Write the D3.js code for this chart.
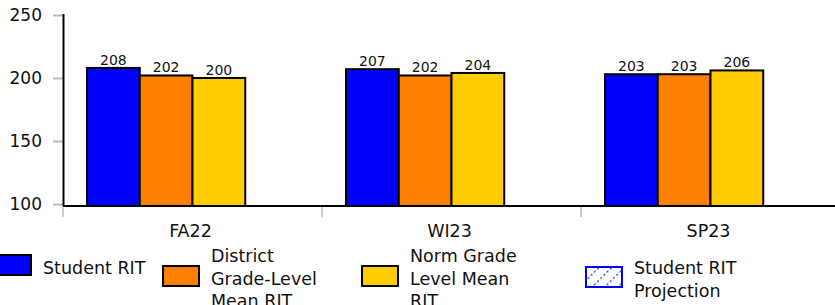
<!DOCTYPE html>
<html>
<head>
<meta charset="utf-8">
<script src="https://cdn.jsdelivr.net/npm/d3@7"></script>
<style>
  body { margin: 0; background: #fff; }
  svg { font-family: "DejaVu Sans", sans-serif; display: block; }
</style>
</head>
<body>
<div id="chart"></div>
<script>
// Data
var terms = ["FA22", "WI23", "SP23"];
var series = ["Student RIT", "District Grade-Level Mean RIT", "Norm Grade Level Mean RIT", "Student RIT Projection"];
var studentRit = [208, 207, 203];
var districtMean = [202, 202, 203];
var normMean = [200, 204, 206];
var yTicks = [100, 150, 200, 250];

var colors = ["#0000ff", "#ff8000", "#ffcc00"];

var width = 835, height = 305;
var svg = d3.select("#chart").append("svg")
    .attr("width", width)
    .attr("height", height);

// hatch pattern for projection
var pat = svg.append("defs").append("pattern")
    .attr("id", "proj")
    .attr("width", 9).attr("height", 9)
    .attr("patternUnits", "userSpaceOnUse")
    .attr("patternTransform", "rotate(45)");
pat.append("line")
    .attr("x1", 0).attr("y1", 0).attr("x2", 0).attr("y2", 9)
    .attr("stroke", "#2020ff")
    .attr("stroke-width", 2.5)
    .attr("stroke-dasharray", "2,2.5");

var baseY = 206;

// scales
var y = d3.scaleLinear().domain([100, 250]).range([204, 15]);
var x0 = d3.scaleBand().domain(terms).range([63, 840]);
var x1 = d3.scaleBand().domain(series).range([24, x0.bandwidth() - 24]);

// y axis
var yAxis = svg.append("g")
    .attr("transform", "translate(63,0)")
    .call(d3.axisLeft(y).tickValues(yTicks).tickSize(10).tickPadding(11));
yAxis.select(".domain").remove();
yAxis.selectAll(".tick line").attr("stroke", "#bbb").attr("stroke-width", 2);
yAxis.selectAll(".tick text")
    .attr("font-size", "17px")
    .attr("font-family", "DejaVu Sans, sans-serif")
    .attr("fill", "#111");
svg.append("line")
    .attr("x1", 63.5).attr("x2", 63.5)
    .attr("y1", 14).attr("y2", baseY)
    .attr("stroke", "#000").attr("stroke-width", 2);

// x axis ticks at band edges
var edges = terms.map(function(t){ return x0(t); }).concat([x0(terms[2]) + x0.bandwidth()]);
svg.selectAll(".xtick").data(edges).enter().append("line")
    .attr("class", "xtick")
    .attr("x1", function(d){ return d; }).attr("x2", function(d){ return d; })
    .attr("y1", baseY + 1).attr("y2", baseY + 11)
    .attr("stroke", "#ccc").attr("stroke-width", 2);

svg.selectAll(".xlabel").data(terms).enter().append("text")
    .attr("class", "xlabel")
    .attr("x", function(d){ return x0(d) + x0.bandwidth() / 2 - 2; })
    .attr("y", 237)
    .attr("text-anchor", "middle")
    .attr("font-size", "17.5px")
    .attr("fill", "#111")
    .text(function(d){ return d; });

// bars
var rows = terms.map(function(t, i){
    return { term: t, values: [studentRit[i], districtMean[i], normMean[i]] };
});

var groups = svg.selectAll(".grp").data(rows).enter().append("g")
    .attr("class", "grp")
    .attr("transform", function(d){ return "translate(" + x0(d.term) + ",0)"; });

groups.selectAll("rect").data(function(d){ return d.values; }).enter().append("rect")
    .attr("x", function(d, i){ return x1(series[i]); })
    .attr("y", function(d){ return y(d); })
    .attr("width", x1.bandwidth())
    .attr("height", function(d){ return baseY - y(d); })
    .attr("fill", function(d, i){ return colors[i]; })
    .attr("stroke", "#000")
    .attr("stroke-width", 2);

groups.selectAll(".val").data(function(d){ return d.values; }).enter().append("text")
    .attr("class", "val")
    .attr("x", function(d, i){ return x1(series[i]) + x1.bandwidth() / 2; })
    .attr("y", function(d){ return y(d) - 3; })
    .attr("text-anchor", "middle")
    .attr("font-size", "14px")
    .attr("fill", "#111")
    .text(function(d){ return d; });

// x axis line
svg.append("line")
    .attr("x1", 63).attr("x2", width)
    .attr("y1", baseY).attr("y2", baseY)
    .attr("stroke", "#000").attr("stroke-width", 2);

// legend
var legendItems = [
    { x: -4, w: 35, ry: 255, lines: ["Student RIT"], ty: 274, fill: colors[0], stroke: "#000" },
    { x: 163, w: 36, ry: 266, lines: ["District", "Grade-Level", "Mean RIT"], ty: 262, fill: colors[1], stroke: "#000" },
    { x: 362, w: 36, ry: 266, lines: ["Norm Grade", "Level Mean", "RIT"], ty: 262, fill: colors[2], stroke: "#000" },
    { x: 586, w: 36, ry: 267, lines: ["Student RIT", "Projection"], ty: 274, fill: "url(#proj)", stroke: "#0000ff" }
];

var leg = svg.selectAll(".leg").data(legendItems).enter().append("g").attr("class", "leg");
leg.append("rect")
    .attr("x", function(d){ return d.x; })
    .attr("y", function(d){ return d.ry; })
    .attr("width", function(d){ return d.w; })
    .attr("height", 20)
    .attr("fill", function(d){ return d.fill; })
    .attr("stroke", function(d){ return d.stroke; })
    .attr("stroke-width", 2);
leg.append("text")
    .attr("font-size", "17.5px")
    .attr("fill", "#111")
    .each(function(d){
        var t = d3.select(this);
        d.lines.forEach(function(line, i){
            t.append("tspan")
                .attr("x", d.x + d.w + 12)
                .attr("y", d.ty + i * 22.5)
                .text(line);
        });
    });
</script>
</body>
</html>
